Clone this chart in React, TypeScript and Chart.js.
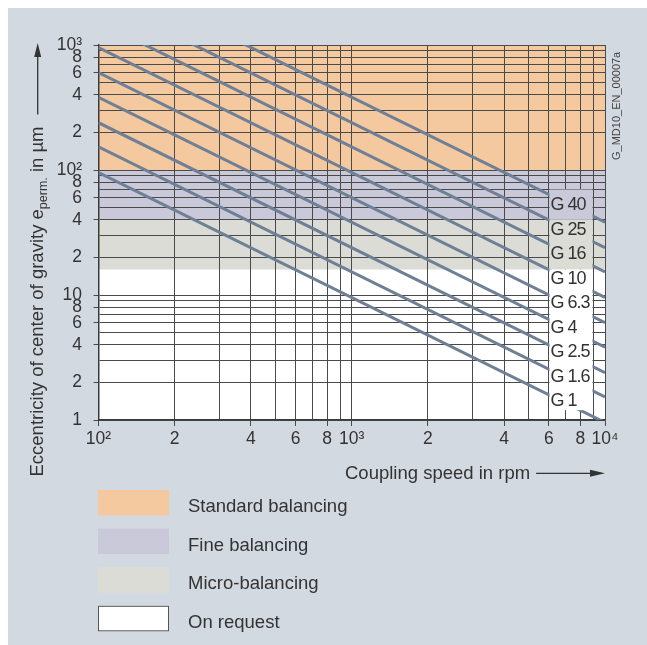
import React, { useEffect, useRef } from "react";
import { Chart, registerables } from "chart.js";

Chart.register(...registerables);

const FONT = '"Liberation Sans", Arial, Helvetica, sans-serif';

// Balancing grade lines (permissible eccentricity in µm at 100 rpm and at 10 000 rpm)
const gradeLabels = ["G 1", "G 1.6", "G 2.5", "G 4", "G 6.3", "G 10", "G 16", "G 25", "G 40"];
const speedEnds = [100, 10000];
const eccAtStart = [95.5, 153, 239, 382, 602, 955, 1530, 2390, 3820];
const eccAtEnd = [0.955, 1.53, 2.39, 3.82, 6.02, 9.55, 15.3, 23.9, 38.2];

// Axis grid values and tick labels
const xGridValues = [100, 200, 300, 400, 500, 600, 700, 800, 900, 1000, 2000, 3000, 4000, 5000, 6000, 7000, 8000, 9000, 10000];
const xLabelValues = [100, 200, 400, 600, 800, 1000, 2000, 4000, 6000, 8000, 10000];
const xLabelTexts = ["10²", "2", "4", "6", "8", "10³", "2", "4", "6", "8", "10⁴"];

const yGridValues = [1, 2, 3, 4, 5, 6, 7, 8, 9, 10, 20, 30, 40, 50, 60, 70, 80, 90, 100, 200, 300, 400, 500, 600, 700, 800, 900, 1000];
const yLabelValues = [1, 2, 4, 6, 8, 10, 20, 40, 60, 80, 100, 200, 400, 600, 800, 1000];
const yLabelTexts = ["1", "2", "4", "6", "8", "10", "2", "4", "6", "8", "10²", "2", "4", "6", "8", "10³"];

// Balancing quality bands
const bandNames = ["Standard balancing", "Fine balancing", "Micro-balancing", "On request"];
const bandLow = [100, 40, 16, 1];
const bandHigh = [1000, 100, 40, 16];
const bandColors = ["#f4c9a0", "#c9c9d9", "#dadcd5", "#ffffff"];

// Label column region (speed from / to, eccentricity top / bottom)
const labelBoxSpeed = [6000, 9000];
const labelBoxEcc = [70, 1.2];

const figureCode = "G_MD10_EN_00007a";

const LINE_COLOR = "#6f7f95";
const GRID_COLOR = "#4a4a4a";
const TEXT_COLOR = "#333333";
const OFF = 8; // panel offset on the page

const decorPlugin = {
  id: "decor",
  beforeDraw(chart: any) {
    const { ctx, chartArea, scales } = chart;
    const y = scales.y;
    ctx.save();
    for (let i = 0; i < bandNames.length; i++) {
      const y1 = y.getPixelForValue(bandHigh[i]);
      const y2 = y.getPixelForValue(bandLow[i]);
      ctx.fillStyle = bandColors[i];
      ctx.fillRect(chartArea.left, y1, chartArea.right - chartArea.left, y2 - y1);
    }
    ctx.restore();
  },
  afterDatasetsDraw(chart: any) {
    const { ctx, scales } = chart;
    const x = scales.x;
    const y = scales.y;
    const bx1 = Math.round(x.getPixelForValue(labelBoxSpeed[0])) + 0.5;
    const bx2 = Math.round(x.getPixelForValue(labelBoxSpeed[1])) - 0.5;
    const by1 = Math.round(y.getPixelForValue(labelBoxEcc[0])) + 0.5;
    const by2 = y.getPixelForValue(labelBoxEcc[1]);
    ctx.save();
    for (let i = 0; i < bandNames.length; i++) {
      const t = Math.max(y.getPixelForValue(bandHigh[i]), by1);
      const b = Math.min(y.getPixelForValue(bandLow[i]), by2);
      if (b > t) {
        ctx.fillStyle = bandColors[i];
        ctx.fillRect(bx1, t, bx2 - bx1, b - t);
      }
    }
    ctx.fillStyle = TEXT_COLOR;
    ctx.font = `18px ${FONT}`;
    (ctx as any).letterSpacing = "-1px";
    ctx.textAlign = "left";
    ctx.textBaseline = "alphabetic";
    const n = gradeLabels.length;
    const rowH = (by2 - by1) / n;
    for (let k = 0; k < n; k++) {
      const label = gradeLabels[n - 1 - k];
      ctx.fillText(label, bx1 + 1, by1 + (k + 0.5) * rowH + 8.5);
    }
    (ctx as any).letterSpacing = "0px";
    ctx.restore();
  },
  afterDraw(chart: any) {
    const { ctx, scales } = chart;
    const x = scales.x;
    ctx.save();
    ctx.fillStyle = TEXT_COLOR;
    ctx.strokeStyle = TEXT_COLOR;

    // y-axis title (rotated) with subscript and arrow
    ctx.save();
    ctx.translate(43 - OFF, 301.5 - OFF);
    ctx.rotate(-Math.PI / 2);
    const big = `18.5px ${FONT}`;
    const small = `12.5px ${FONT}`;
    const p1 = "Eccentricity of center of gravity e";
    const p2 = "perm.";
    const p3 = " in µm";
    ctx.font = big;
    const w1 = ctx.measureText(p1).width;
    const w3 = ctx.measureText(p3).width;
    ctx.font = small;
    const w2 = ctx.measureText(p2).width;
    const W = w1 + w2 + w3;
    let sx = -W / 2;
    ctx.textBaseline = "alphabetic";
    ctx.textAlign = "left";
    ctx.font = big;
    ctx.fillText(p1, sx, 0);
    sx += w1;
    ctx.font = small;
    ctx.fillText(p2, sx, 4);
    sx += w2;
    ctx.font = big;
    ctx.fillText(p3, sx, 0);
    sx += w3;
    const tip = 301.5 - 43;
    const ay = -5.3;
    ctx.lineWidth = 1.3;
    ctx.beginPath();
    ctx.moveTo(sx + 12, ay);
    ctx.lineTo(tip - 12, ay);
    ctx.stroke();
    ctx.beginPath();
    ctx.moveTo(tip, ay);
    ctx.lineTo(tip - 14, ay - 3.5);
    ctx.lineTo(tip - 14, ay + 3.5);
    ctx.closePath();
    ctx.fill();
    ctx.restore();

    // x-axis title with arrow
    ctx.font = `18.5px ${FONT}`;
    ctx.textAlign = "left";
    ctx.textBaseline = "alphabetic";
    const xt = "Coupling speed in rpm";
    const tx = 345 - OFF;
    const ty = 479 - OFF;
    ctx.fillText(xt, tx, ty);
    const tw = ctx.measureText(xt).width;
    const xtip = x.getPixelForValue(10000);
    const ayx = ty - 5.7;
    ctx.lineWidth = 1.3;
    ctx.beginPath();
    ctx.moveTo(tx + tw + 6, ayx);
    ctx.lineTo(xtip - 12, ayx);
    ctx.stroke();
    ctx.beginPath();
    ctx.moveTo(xtip, ayx);
    ctx.lineTo(xtip - 15, ayx - 3.5);
    ctx.lineTo(xtip - 15, ayx + 3.5);
    ctx.closePath();
    ctx.fill();

    // figure code (rotated)
    ctx.save();
    ctx.translate(620 - OFF, 160 - OFF);
    ctx.rotate(-Math.PI / 2);
    ctx.font = `11px ${FONT}`;
    ctx.fillStyle = "#444444";
    ctx.fillText(figureCode, 0, 0);
    ctx.restore();

    // legend
    const lx = 98 - OFF;
    const lw = 71;
    const lh = 25.5;
    const top0 = 490 - OFF;
    const step = 38.6;
    ctx.font = `18.5px ${FONT}`;
    for (let i = 0; i < bandNames.length; i++) {
      const t = top0 + i * step;
      ctx.fillStyle = bandColors[i];
      ctx.fillRect(lx, t, lw, lh);
      if (i === bandNames.length - 1) {
        ctx.strokeStyle = "#555555";
        ctx.lineWidth = 1;
        ctx.strokeRect(lx + 0.5, t + 0.5, lw - 1, lh - 1);
      }
      ctx.fillStyle = TEXT_COLOR;
      ctx.fillText(bandNames[i], 188 - OFF, t + 22);
    }
    ctx.restore();
  },
};

export default function App() {
  const canvasRef = useRef<HTMLCanvasElement | null>(null);

  useEffect(() => {
    const canvas = canvasRef.current;
    if (!canvas) return;

    const datasets = gradeLabels.map((g, i) => ({
      label: g,
      data: [
        { x: speedEnds[0], y: eccAtStart[i] },
        { x: speedEnds[1], y: eccAtEnd[i] },
      ],
      borderColor: LINE_COLOR,
      backgroundColor: LINE_COLOR,
      borderWidth: 3,
      pointRadius: 0,
      fill: false,
      tension: 0,
    }));

    const chart = new Chart(canvas, {
      type: "line",
      data: { datasets },
      options: {
        animation: false,
        responsive: false,
        events: [],
        layout: { padding: { left: 0, top: 37, right: 42, bottom: 0 } },
        plugins: {
          legend: { display: false },
          tooltip: { enabled: false },
          title: { display: false },
        },
        scales: {
          x: {
            type: "logarithmic",
            min: 100,
            max: 10000,
            afterBuildTicks: (scale: any) => {
              scale.ticks = xGridValues.map((v) => ({ value: v }));
            },
            afterFit: (scale: any) => {
              scale.height = 225;
            },
            ticks: {
              autoSkip: false,
              maxRotation: 0,
              minRotation: 0,
              padding: 3,
              color: TEXT_COLOR,
              font: { family: FONT, size: 17.5 },
              callback: (value: any) => {
                const idx = xLabelValues.indexOf(Number(value));
                return idx >= 0 ? xLabelTexts[idx] : "";
              },
            },
            grid: {
              color: GRID_COLOR,
              lineWidth: 1,
              tickLength: 6,
              tickColor: (c: any) =>
                c.tick && xLabelValues.indexOf(c.tick.value) >= 0 ? GRID_COLOR : "rgba(0,0,0,0)",
            },
            border: { display: true, color: "#3a3a3a", width: 1.5 },
          },
          y: {
            type: "logarithmic",
            min: 1,
            max: 1000,
            afterBuildTicks: (scale: any) => {
              scale.ticks = yGridValues.map((v) => ({ value: v }));
            },
            afterFit: (scale: any) => {
              scale.width = 90.5;
            },
            ticks: {
              autoSkip: false,
              padding: 11.5,
              color: TEXT_COLOR,
              font: { family: FONT, size: 17.5 },
              callback: (value: any) => {
                const idx = yLabelValues.indexOf(Number(value));
                return idx >= 0 ? yLabelTexts[idx] : "";
              },
            },
            grid: {
              color: GRID_COLOR,
              lineWidth: 1,
              tickLength: 5,
              tickColor: (c: any) =>
                c.tick && yLabelValues.indexOf(c.tick.value) >= 0 ? GRID_COLOR : "rgba(0,0,0,0)",
            },
            border: { display: true, color: "#3a3a3a", width: 1.5 },
          },
        },
      },
      plugins: [decorPlugin],
    } as any);

    return () => {
      chart.destroy();
    };
  }, []);

  return (
    <div
      style={{
        position: "fixed",
        left: OFF,
        top: OFF,
        right: 0,
        bottom: 0,
        background: "#d3d9e1",
        overflow: "hidden",
      }}
    >
      <canvas ref={canvasRef} width={639} height={637} style={{ display: "block" }} />
    </div>
  );
}
